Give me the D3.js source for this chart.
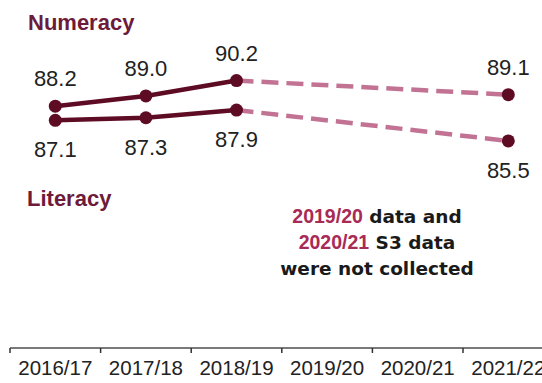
<!DOCTYPE html>
<html>
<head>
<meta charset="utf-8">
<script src="https://cdn.jsdelivr.net/npm/d3@7"></script>
<style>
  body { margin: 0; background: #fff; }
  svg { display: block; }
</style>
</head>
<body>
<script>
const years = ['2016/17', '2017/18', '2018/19', '2019/20', '2020/21', '2021/22'];
const numeracy = [88.2, 89.0, 90.2, null, null, 89.1];
const literacy = [87.1, 87.3, 87.9, null, null, 85.5];
const noteLines = [
  [{ t: '2019/20', red: true }, { t: ' data and', red: false }],
  [{ t: '2020/21', red: true }, { t: ' S3 data', red: false }],
  [{ t: 'were not collected', red: false }],
];

const width = 542;
const height = 383;
const dark = '#5e0b24';
const pink = '#c27394';
const labelColor = '#6e1a3b';

const svg = d3.select('body').append('svg')
  .attr('width', width)
  .attr('height', height);

const x = d3.scaleBand()
  .domain(years)
  .range([10, 10 + 6 * 90.6])
  .paddingInner(0)
  .paddingOuter(0);

const y = d3.scaleLinear()
  .domain([80, 95])
  .range([211.5, 18.9]);

const cx = d => x(d) + x.bandwidth() / 2;

// x axis
const axisY = 348;
const axis = svg.append('g')
  .attr('transform', `translate(0,${axisY})`)
  .call(d3.axisBottom(x).tickSize(0).tickPadding(12));
axis.select('.domain').remove();
axis.selectAll('text')
  .attr('font-family', 'Liberation Sans, Arial, sans-serif')
  .attr('font-size', 20.5)
  .attr('fill', '#222')
  .attr('dy', '0.71em');

svg.append('line')
  .attr('x1', 10).attr('x2', width)
  .attr('y1', axisY).attr('y2', axisY)
  .attr('stroke', '#7a7a7a')
  .attr('stroke-width', 2);

svg.selectAll('.btick')
  .data(years)
  .join('line')
  .attr('class', 'btick')
  .attr('x1', d => x(d)).attr('x2', d => x(d))
  .attr('y1', axisY).attr('y2', axisY + 5)
  .attr('stroke', '#333')
  .attr('stroke-width', 1.5);

const series = [
  { name: 'Numeracy', values: numeracy, dy: -20 },
  { name: 'Literacy', values: literacy, dy: 37 },
];

const line = d3.line()
  .x(d => cx(d.year))
  .y(d => y(d.v));

series.forEach(s => {
  const pts = years.map((yr, i) => ({ year: yr, v: s.values[i] }))
    .filter(d => d.v !== null);
  const solid = pts.slice(0, 3);
  const dashed = [pts[2], pts[3]];

  svg.append('path')
    .attr('d', line(dashed))
    .attr('fill', 'none')
    .attr('stroke', pink)
    .attr('stroke-width', 4.5)
    .attr('stroke-dasharray', '17,8');

  svg.append('path')
    .attr('d', line(solid))
    .attr('fill', 'none')
    .attr('stroke', dark)
    .attr('stroke-width', 4.5);

  svg.selectAll(null)
    .data(pts)
    .join('circle')
    .attr('cx', d => cx(d.year))
    .attr('cy', d => y(d.v))
    .attr('r', 6.5)
    .attr('fill', dark);

  svg.selectAll(null)
    .data(pts)
    .join('text')
    .attr('x', d => cx(d.year))
    .attr('y', d => y(d.v) + s.dy)
    .attr('text-anchor', 'middle')
    .attr('font-family', 'Liberation Sans, Arial, sans-serif')
    .attr('font-size', 22)
    .attr('fill', '#222')
    .text(d => d.v.toFixed(1));
});

// series names
svg.append('text')
  .attr('x', 28).attr('y', 29.5)
  .attr('font-family', 'Liberation Sans, Arial, sans-serif')
  .attr('font-weight', 'bold')
  .attr('font-size', 22)
  .attr('fill', labelColor)
  .text('Numeracy');

svg.append('text')
  .attr('x', 27).attr('y', 205.5)
  .attr('font-family', 'Liberation Sans, Arial, sans-serif')
  .attr('font-weight', 'bold')
  .attr('font-size', 22)
  .attr('fill', labelColor)
  .text('Literacy');

// note
const note = svg.append('text')
  .attr('text-anchor', 'middle')
  .attr('font-weight', 'bold')
  .attr('font-size', 18.5);

noteLines.forEach((parts, i) => {
  const row = note.append('tspan')
    .attr('x', 377)
    .attr('y', 222.5 + i * 26);
  parts.forEach(p => {
    row.append('tspan')
      .attr('font-family', p.red ? 'Liberation Sans, Arial, sans-serif' : 'DejaVu Sans, Verdana, sans-serif')
      .attr('font-size', p.red ? 19.5 : 18.5)
      .attr('fill', p.red ? '#a82a55' : '#1a1a1a')
      .text(p.t);
  });
});
</script>
</body>
</html>
